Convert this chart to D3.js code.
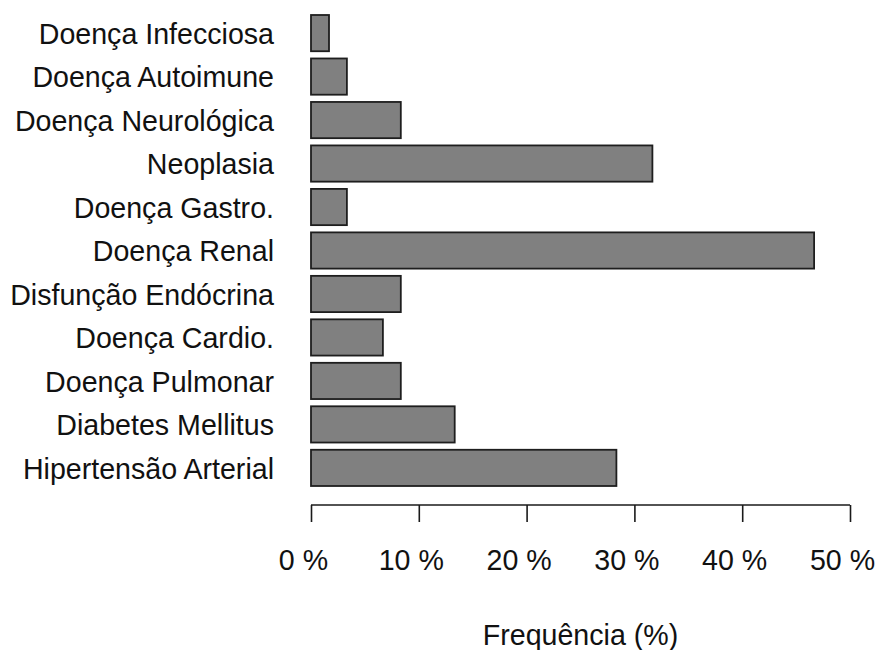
<!DOCTYPE html>
<html>
<head>
<meta charset="utf-8">
<script src="https://cdn.jsdelivr.net/npm/d3@7"></script>
<style>
  body { margin: 0; background: #fff; }
  text { font-family: "Liberation Sans", Arial, sans-serif; fill: #111; }
</style>
</head>
<body>
<svg id="chart" width="877" height="650"></svg>
<script>
// categories, top to bottom
const categories = [
  'Doença Infecciosa',
  'Doença Autoimune',
  'Doença Neurológica',
  'Neoplasia',
  'Doença Gastro.',
  'Doença Renal',
  'Disfunção Endócrina',
  'Doença Cardio.',
  'Doença Pulmonar',
  'Diabetes Mellitus',
  'Hipertensão Arterial',
];
// frequency in %
const frequencies = [1.67, 3.33, 8.33, 31.67, 3.33, 46.67, 8.33, 6.67, 8.33, 13.33, 28.33];
const tickValues = [0, 10, 20, 30, 40, 50];
const tickLabels = ['0 %', '10 %', '20 %', '30 %', '40 %', '50 %'];
const xAxisLabel = 'Frequência (%)';

const svg = d3.select('#chart');
const fontSize = 28.6;

const x = d3.scaleLinear().domain([0, 50]).range([311, 850]);
const y = d3.scaleBand()
  .domain(categories)
  .range([15, 486])
  .paddingInner(1 / 6)
  .paddingOuter(0);

// bars
svg.append('g')
  .selectAll('rect')
  .data(categories)
  .enter()
  .append('rect')
  .attr('x', x(0))
  .attr('y', (d) => y(d))
  .attr('width', (d, i) => x(frequencies[i]) - x(0))
  .attr('height', y.bandwidth())
  .attr('fill', '#808080')
  .attr('stroke', '#1e1e1e')
  .attr('stroke-width', 1.8);

// category labels
svg.append('g')
  .selectAll('text')
  .data(categories)
  .enter()
  .append('text')
  .attr('x', x(0) - 37)
  .attr('y', (d) => y(d) + y.bandwidth() / 2)
  .attr('dy', '0.38em')
  .attr('text-anchor', 'end')
  .attr('font-size', fontSize)
  .text((d) => d);

// x axis (R style: line spans first to last tick, ticks point down)
const xaxis = svg.append('g')
  .attr('transform', 'translate(0,505)')
  .call(d3.axisBottom(x)
    .tickValues(tickValues)
    .tickFormat((d, i) => tickLabels[i])
    .tickSizeInner(17)
    .tickSizeOuter(0)
    .tickPadding(28));

xaxis.select('.domain')
  .attr('stroke', '#1a1a1a')
  .attr('stroke-width', 1.6)
  .attr('d', `M${x(0)},0H${x(50)}`);
xaxis.selectAll('.tick line')
  .attr('stroke', '#1a1a1a')
  .attr('stroke-width', 1.6);
xaxis.selectAll('.tick text')
  .attr('font-size', fontSize)
  .attr('font-family', '"Liberation Sans", Arial, sans-serif')
  .attr('fill', '#111')
  .attr('dx', -8);

svg.append('text')
  .attr('x', (x(0) + x(50)) / 2)
  .attr('y', 645)
  .attr('text-anchor', 'middle')
  .attr('font-size', fontSize)
  .text(xAxisLabel);
</script>
</body>
</html>
